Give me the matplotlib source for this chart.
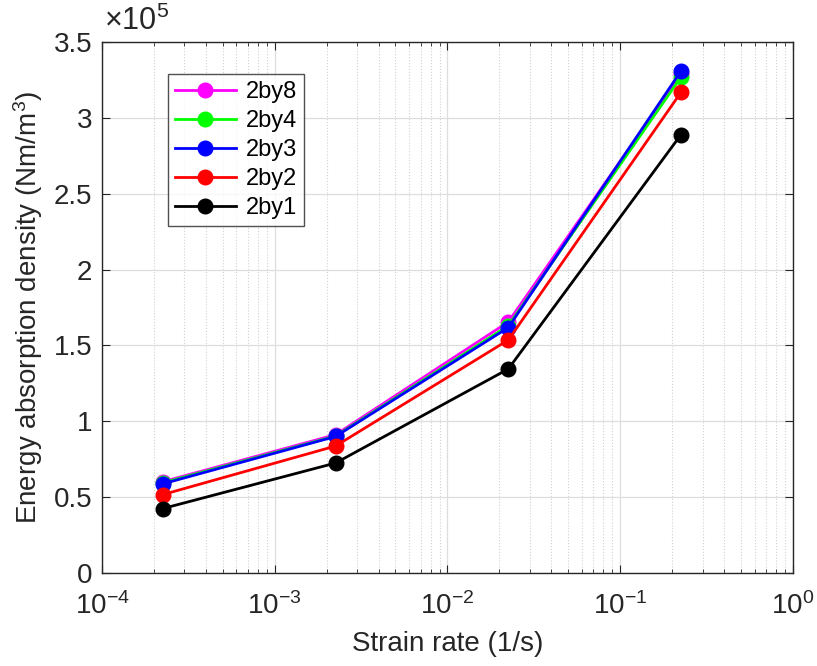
import numpy as np
import matplotlib
matplotlib.use("Agg")
import matplotlib.pyplot as plt
from matplotlib.ticker import FuncFormatter, MultipleLocator

plt.rcParams['font.family'] = ['Liberation Sans', 'DejaVu Sans']
plt.rcParams['mathtext.fontset'] = 'custom'
plt.rcParams['mathtext.rm'] = 'Liberation Sans'
plt.rcParams['mathtext.it'] = 'Liberation Sans:italic'

# strain rates (1/s)
strain_rate = [2.25e-4, 2.25e-3, 2.25e-2, 2.25e-1]

# energy absorption density (Nm/m^3)
e_2by8 = [0.602e5, 0.912e5, 1.655e5, 3.29e5]
e_2by4 = [0.595e5, 0.903e5, 1.630e5, 3.27e5]
e_2by3 = [0.588e5, 0.900e5, 1.618e5, 3.31e5]
e_2by2 = [0.517e5, 0.837e5, 1.536e5, 3.169e5]
e_2by1 = [0.425e5, 0.725e5, 1.345e5, 2.89e5]

labels = ['2by8', '2by4', '2by3', '2by2', '2by1']
colors = ['#ff00ff', '#00ff00', '#0000ff', '#ff0000', '#000000']
series = [e_2by8, e_2by4, e_2by3, e_2by2, e_2by1]

fig = plt.figure(figsize=(8.17, 6.66), dpi=100)
ax = fig.add_axes([0.1248, 0.1396, 0.8458, 0.7973])

for y, c, lab in zip(series, colors, labels):
    ax.plot(strain_rate, y, '-o', color=c, lw=2.0, ms=10.5, label=lab)

ax.set_xscale('log')
ax.set_xlim(1e-4, 1e0)
ax.set_ylim(0, 3.5e5)
ax.yaxis.set_major_locator(MultipleLocator(0.5e5))
ax.yaxis.set_major_formatter(FuncFormatter(lambda v, p: '%g' % (v / 1e5)))

ax.grid(True, which='major', color='#dedede', lw=0.9, ls='-')
ax.grid(True, which='minor', axis='x', color='#d2d2d2', lw=0.8, ls=':')
ax.set_axisbelow(True)

ax.tick_params(which='both', direction='in', top=True, right=True,
               colors='#262626', labelsize=20)
ax.tick_params(axis='y', pad=7)
ax.tick_params(axis='x', pad=14)
ax.tick_params(which='major', length=6)
ax.tick_params(which='minor', length=3)
for s in ax.spines.values():
    s.set_color('#262626')
    s.set_linewidth(1.0)

ax.set_xlabel('Strain rate (1/s)', fontsize=20, color='#262626', labelpad=8)
ax.set_ylabel('Energy absorption density (Nm/m$^3$)', fontsize=20,
              color='#262626', labelpad=6)
ax.text(0.003, 1.01, r'$\times10^5$', transform=ax.transAxes, fontsize=22,
        color='#262626', ha='left', va='bottom')

leg = ax.legend(loc='upper left', bbox_to_anchor=(0.095, 0.94), fontsize=17,
                frameon=True, fancybox=False, edgecolor='#262626',
                handlelength=2.6, handletextpad=0.4, borderpad=0.3,
                labelspacing=0.3, borderaxespad=0)
leg.get_frame().set_linewidth(1.0)

fig.savefig('out.png', dpi=100)
